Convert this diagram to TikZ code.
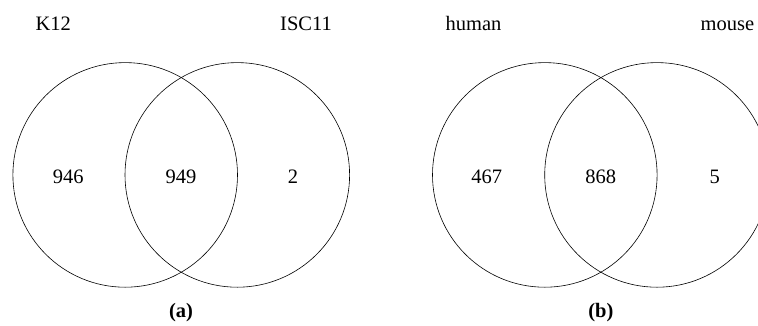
\documentclass[tikz,border=0pt]{standalone}
\usepackage{fontspec}
\setmainfont{Liberation Serif}
\begin{document}
\begin{tikzpicture}[x=1pt,y=-1pt,
  setcircle/.style={circle,draw=black,line width=0.6pt,minimum size=224.6pt,inner sep=0pt},
  lbl/.style={anchor=base,inner sep=0pt,font=\fontsize{20.5}{24}\selectfont},
  panelcap/.style={anchor=base,inner sep=0pt,font=\fontsize{20.5}{24}\selectfont\bfseries}]
\useasboundingbox (0,0) rectangle (758,325);
% panel (a)
\node[setcircle] (k12c) at (125.2,174.9) {};
\node[setcircle] (iscc) at (237.3,174.9) {};
\node[lbl] (k12) at (53.3,30.7) {K12};
\node[lbl] (isc) at (306,30.7) {ISC11};
\node[lbl] (n946) at (68.3,183.3) {946};
\node[lbl] (n949) at (181,183.3) {949};
\node[lbl] (n2) at (293,183.3) {2};
\node[panelcap] (capa) at (181,317.5) {(a)};
% panel (b)
\node[setcircle] (humc) at (544.8,174.9) {};
\node[setcircle] (mouc) at (657,174.9) {};
\node[lbl] (hum) at (473.5,30.7) {human};
\node[lbl] (mou) at (727.5,30.7) {mouse};
\node[lbl] (n467) at (486.7,183.3) {467};
\node[lbl] (n868) at (600.8,183.3) {868};
\node[lbl] (n5) at (714.7,183.3) {5};
\node[panelcap] (capb) at (600.8,317.5) {(b)};
\end{tikzpicture}
\end{document}
